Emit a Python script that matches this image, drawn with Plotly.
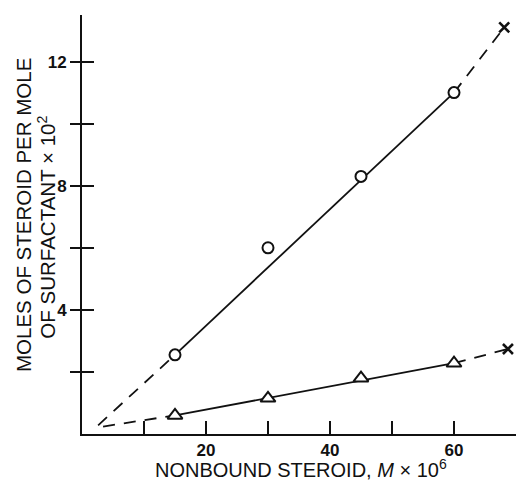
import plotly.graph_objects as go

# ---- data ----
x_steroid = [15, 30, 45, 60]
circle_y = [2.55, 6.0, 8.3, 11.0]
triangle_y = [0.6, 1.15, 1.8, 2.28]

# extrapolated end points (x markers)
circle_extrap_x = 68.1
circle_extrap_y = 13.1
triangle_extrap_x = 68.7
triangle_extrap_y = 2.74

# start of dashed extrapolation near origin
circle_start = (2.6, 0.28)
triangle_start = (3.4, 0.24)

x_range = [0, 70]
y_range = [0, 13.5]
x_tickvals = [10, 20, 30, 40, 50, 60, 70]
x_ticktext = ["", "20", "", "40", "", "60", ""]
y_tickvals = [2, 4, 6, 8, 10, 12]
y_ticktext = ["", "4", "", "8", "", "12"]

y_title_lines = ["MOLES OF STEROID PER MOLE", "OF SURFACTANT × 10<sup>2</sup>"]
x_title = "NONBOUND STEROID, <i>M</i> × 10<sup>6</sup>"

BLACK = "#111111"
DASH = "12px,9px"

fig = go.Figure()

def add_series(ys, start, ex_x, ex_y, symbol, size):
    # dashed extrapolation to origin
    fig.add_trace(go.Scatter(x=[start[0], x_steroid[0]], y=[start[1], ys[0]], mode="lines",
                             line=dict(color=BLACK, width=1.8, dash=DASH), hoverinfo="skip"))
    # solid fitted line between first and last points
    fig.add_trace(go.Scatter(x=[x_steroid[0], x_steroid[-1]], y=[ys[0], ys[-1]], mode="lines",
                             line=dict(color=BLACK, width=1.8), hoverinfo="skip"))
    # dashed extrapolation to the x marker
    fig.add_trace(go.Scatter(x=[x_steroid[-1], ex_x], y=[ys[-1], ex_y], mode="lines",
                             line=dict(color=BLACK, width=1.8, dash=DASH), hoverinfo="skip"))
    # points
    fig.add_trace(go.Scatter(x=x_steroid, y=ys, mode="markers",
                             marker=dict(symbol=symbol, size=size, color="white",
                                         line=dict(color=BLACK, width=2))))
    fig.add_trace(go.Scatter(x=[ex_x], y=[ex_y], mode="markers",
                             marker=dict(symbol="x-thin", size=10,
                                         line=dict(color=BLACK, width=2.6))))

add_series(circle_y, circle_start, circle_extrap_x, circle_extrap_y, "circle", 11)
add_series(triangle_y, triangle_start, triangle_extrap_x, triangle_extrap_y, "triangle-up", 13)

tickfont = dict(family="Liberation Sans, Arial, sans-serif", size=17, color=BLACK, weight="bold")

fig.update_layout(
    width=519, height=482,
    margin=dict(l=82, r=3, t=15, b=48),
    paper_bgcolor="white", plot_bgcolor="white",
    showlegend=False,
    xaxis=dict(range=x_range, tickvals=x_tickvals, ticktext=x_ticktext,
               ticks="inside", ticklen=13, tickwidth=1.8, tickcolor=BLACK,
               showline=True, linecolor=BLACK, linewidth=2, showgrid=False, zeroline=False,
               ticklabelstandoff=0, tickfont=tickfont),
    yaxis=dict(range=y_range, tickvals=y_tickvals, ticktext=y_ticktext,
               ticks="outside", ticklen=10, tickwidth=1.8, tickcolor=BLACK,
               showline=True, linecolor=BLACK, linewidth=2, showgrid=False, zeroline=False,
               tickfont=tickfont),
    yaxis2=dict(range=y_range, tickvals=y_tickvals, overlaying="y", side="left",
                ticks="inside", ticklen=12, tickwidth=1.8, tickcolor=BLACK,
                showticklabels=False, showline=False, showgrid=False, zeroline=False),
)

# invisible trace to activate yaxis2
fig.add_trace(go.Scatter(x=[x_steroid[0]], y=[circle_y[0]], yaxis="y2", mode="markers",
                         marker=dict(opacity=0), hoverinfo="skip"))

labelfont = dict(family="Liberation Sans, Arial, sans-serif", size=20.5, color=BLACK)
for txt, xp, yp in zip(y_title_lines, [-0.1336, -0.0815], [0.5227, 0.494]):
    fig.add_annotation(text=txt, xref="paper", yref="paper", x=xp, y=yp,
                       xanchor="center", yanchor="middle", textangle=-90,
                       showarrow=False, font=labelfont)
fig.add_annotation(text=x_title, xref="paper", yref="paper", x=0.5046, y=-0.0812,
                   xanchor="center", yanchor="middle",
                   showarrow=False, font=dict(family="Liberation Sans, Arial, sans-serif",
                                              size=20, color=BLACK))

fig.write_html("out.html")
